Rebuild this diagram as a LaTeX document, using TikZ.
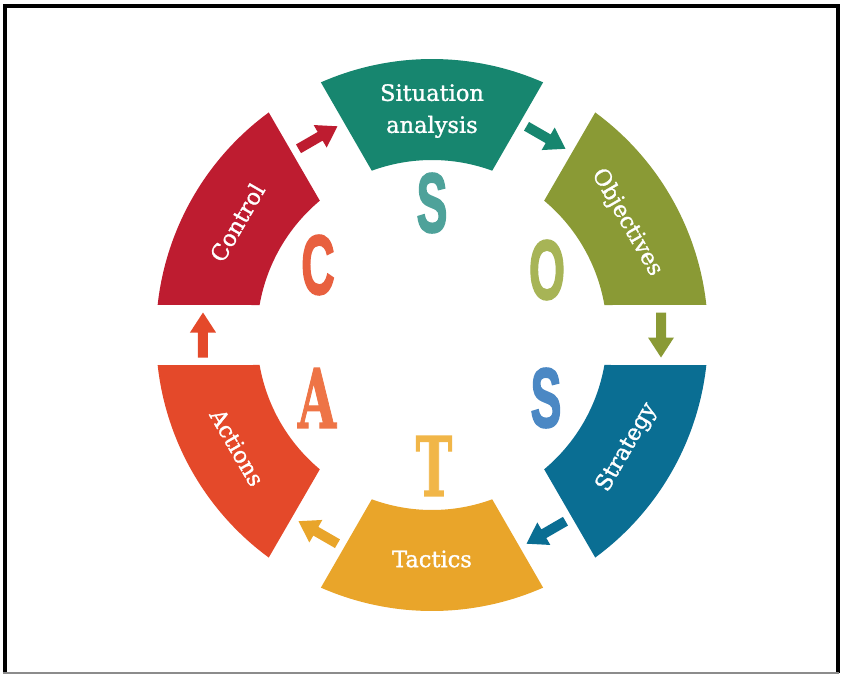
\documentclass[tikz,border=0pt]{standalone}
\usepackage{fontspec}
\setmainfont{DejaVu Serif}
\newfontfamily\lblfont{DejaVu Serif}[FakeBold=1.3]
\newfontfamily\bigsans{Liberation Sans Bold}[FakeBold=2.5]
\newfontfamily\bigslab{DejaVu Serif Bold}[FakeBold=1.5]
\definecolor{sitC}{HTML}{17866F}
\definecolor{objC}{HTML}{8A9A35}
\definecolor{strC}{HTML}{0A6E93}
\definecolor{tacC}{HTML}{E9A52A}
\definecolor{actC}{HTML}{E4492A}
\definecolor{conC}{HTML}{BE1C30}
\definecolor{sL}{HTML}{4EA29A}
\definecolor{oL}{HTML}{A7B456}
\definecolor{stL}{HTML}{4B88C4}
\definecolor{tL}{HTML}{F1B648}
\definecolor{aL}{HTML}{EE7446}
\definecolor{cL}{HTML}{E8603F}
\tikzset{
  lbl/.style={text=white, font=\lblfont\fontsize{22.5}{32}\selectfont, inner sep=0pt},
  bigsansletter/.style={font=\bigsans\fontsize{84}{84}\selectfont, xscale=0.55, inner sep=0pt},
  bigslabletter/.style={font=\bigslab\fontsize{82}{82}\selectfont, xscale=0.6, inner sep=0pt},
  pics/blockarrow/.style={code={
    \fill (-22.5,-5) -- (2.5,-5) -- (2.5,-13) -- (22.5,0) -- (2.5,13) -- (2.5,5) -- (-22.5,5) -- cycle;}}
}
\begin{document}
\begin{tikzpicture}[x=1pt,y=1pt]
\useasboundingbox (-432,-340) rectangle (409,335);
\fill[white] (-432,-340) rectangle (409,335);
% frame
\draw[black, line width=4] (-427,-338) -- (-427,329) -- (405.5,329) -- (405.5,-338);
\draw[black!45, line width=1.5] (-429,-338) -- (407,-338);
% ring segments
\foreach \a/\c in {60/sitC, 0/objC, -60/strC, -120/tacC, 180/actC, 120/conC}{
  \fill[\c] ({\a+6.26}:276) arc[start angle={\a+6.26}, end angle={\a+53.74}, radius=276]
    -- ({\a+50.13}:175) arc[start angle={\a+50.13}, end angle={\a+9.87}, radius=175] -- cycle;
}
% labels
\node[lbl, align=center] (situation) at (90:224) {Situation\\analysis};
\node[lbl, rotate=-60] (objectives) at (30:225) {Objectives};
\node[lbl, rotate=60] (strategy) at (-30:225) {Strategy};
\node[lbl] (tactics) at (-90:224) {Tactics};
\node[lbl, rotate=-60] (actions) at (210:225) {Actions};
\node[lbl, rotate=60] (control) at (150:225) {Control};
% letters
\node[bigsansletter, text=sL] (letS) at (0,132) {S};
\node[bigsansletter, text=oL] (letO) at (115,65) {O};
\node[bigsansletter, text=stL] (letS2) at (114,-63) {S};
\node[bigslabletter, text=tL] (letT) at (2,-131) {T};
\node[bigslabletter, text=aL] (letA) at (-115,-63) {A};
\node[bigsansletter, text=cL] (letC) at (-114,70) {C};
% arrows in the gaps
\pic[fill=conC, rotate=30] (arrCS) at (120:228) {blockarrow};
\pic[fill=sitC, rotate=-30] (arrSO) at (60:228) {blockarrow};
\pic[fill=objC, rotate=-90] (arrOS) at (0:229) {blockarrow};
\pic[fill=strC, rotate=-150] (arrST) at (-60:228) {blockarrow};
\pic[fill=tacC, rotate=150] (arrTA) at (-120:228) {blockarrow};
\pic[fill=actC, rotate=90] (arrAC) at (180:229) {blockarrow};
\end{tikzpicture}
\end{document}
